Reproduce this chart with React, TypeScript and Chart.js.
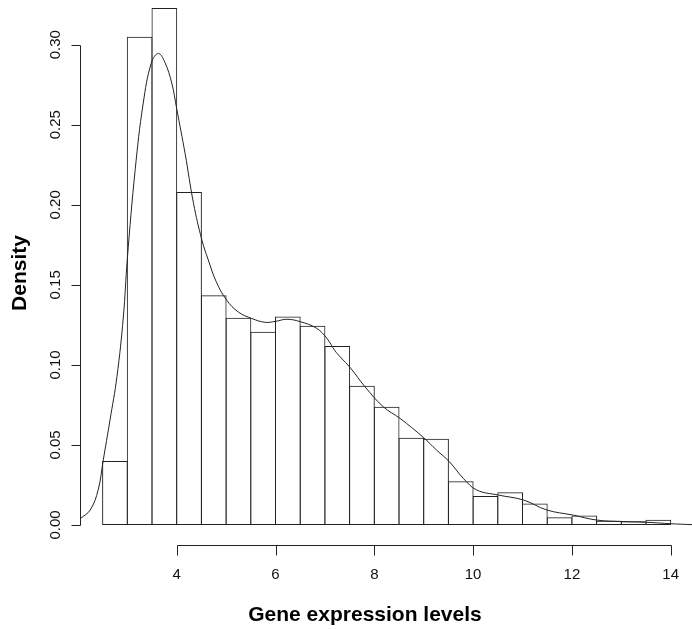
import { useEffect, useRef } from "react";
import { Chart, registerables } from "chart.js";

Chart.register(...registerables);

// Histogram bins (width 0.5, centres) and their densities
const binCenters = [
  2.75, 3.25, 3.75, 4.25, 4.75, 5.25, 5.75, 6.25, 6.75, 7.25, 7.75, 8.25,
  8.75, 9.25, 9.75, 10.25, 10.75, 11.25, 11.75, 12.25, 12.75, 13.25, 13.75,
];
const binDensity = [
  0.04, 0.305, 0.323, 0.208, 0.1435, 0.1295, 0.1207, 0.1303, 0.1245, 0.1118,
  0.087, 0.0739, 0.0545, 0.0539, 0.0273, 0.0181, 0.0204, 0.0135, 0.0048,
  0.006, 0.0027, 0.0023, 0.0033,
];

// Kernel density estimate overlaid on the histogram
const kdeX = [
  2.05, 2.25, 2.41, 2.51, 2.65, 2.79, 2.92, 3.0, 3.16, 3.32, 3.49, 3.63, 3.76,
  3.9, 4.0, 4.17, 4.34, 4.51, 4.64, 4.8, 5.01, 5.25, 5.52, 5.79, 6.0, 6.23,
  6.5, 6.83, 7.04, 7.2, 7.31, 7.52, 7.81, 8.18, 8.52, 8.99, 9.26, 9.52, 9.8,
  10.07, 10.51, 11.02, 11.49, 12.02, 12.5, 13.0, 13.51, 14.0, 14.45,
];
const kdeY = [
  0.004, 0.0094, 0.0219, 0.04, 0.0656, 0.0926, 0.13, 0.166, 0.222, 0.263,
  0.289, 0.2945, 0.289, 0.276, 0.26, 0.232, 0.201, 0.178, 0.1655, 0.152,
  0.1405, 0.133, 0.129, 0.1266, 0.1272, 0.1285, 0.127, 0.1229, 0.1166, 0.109,
  0.105, 0.098, 0.0864, 0.0739, 0.0666, 0.0548, 0.0468, 0.0395, 0.0292,
  0.0219, 0.0187, 0.0156, 0.0094, 0.0062, 0.0031, 0.0022, 0.0017, 0.0008,
  0.0002,
];

const xTicks = [4, 6, 8, 10, 12, 14];
const yTicks = [0, 0.05, 0.1, 0.15, 0.2, 0.25, 0.3];
const yTickLabels = ["0.00", "0.05", "0.10", "0.15", "0.20", "0.25", "0.30"];

const xTitle = "Gene expression levels";
const yTitle = "Density";

const FONT = "'Liberation Sans', Arial, Helvetica, sans-serif";
const INK = "#222";

// Base-graphics style axes: detached lines that only span the tick range
const rAxes = {
  id: "rAxes",
  afterDraw(chart: any) {
    const { ctx } = chart;
    const xs = chart.scales.x;
    const ys = chart.scales.y;
    const crisp = (v: number) => Math.round(v) + 0.5;

    ctx.save();
    ctx.strokeStyle = INK;
    ctx.lineWidth = 1;
    ctx.fillStyle = "#111";

    // y axis
    const yAxisX = crisp(chart.chartArea.left);
    ctx.beginPath();
    ctx.moveTo(yAxisX, crisp(ys.getPixelForValue(yTicks[0])));
    ctx.lineTo(yAxisX, crisp(ys.getPixelForValue(yTicks[yTicks.length - 1])));
    yTicks.forEach((v) => {
      const py = crisp(ys.getPixelForValue(v));
      ctx.moveTo(yAxisX, py);
      ctx.lineTo(yAxisX - 9, py);
    });
    ctx.stroke();

    ctx.font = `15px ${FONT}`;
    ctx.textAlign = "center";
    ctx.textBaseline = "alphabetic";
    yTicks.forEach((v, i) => {
      const py = ys.getPixelForValue(v);
      ctx.save();
      ctx.translate(59.5, py);
      ctx.rotate(-Math.PI / 2);
      ctx.fillText(yTickLabels[i], 0, 0);
      ctx.restore();
    });

    // x axis
    const xAxisY = crisp(chart.chartArea.bottom - 1);
    ctx.beginPath();
    ctx.moveTo(crisp(xs.getPixelForValue(xTicks[0])), xAxisY);
    ctx.lineTo(crisp(xs.getPixelForValue(xTicks[xTicks.length - 1])), xAxisY);
    xTicks.forEach((v) => {
      const px = crisp(xs.getPixelForValue(v));
      ctx.moveTo(px, xAxisY);
      ctx.lineTo(px, xAxisY + 10);
    });
    ctx.stroke();

    xTicks.forEach((v) => {
      ctx.fillText(String(v), xs.getPixelForValue(v), 578.5);
    });

    // axis titles
    ctx.font = `bold 21px ${FONT}`;
    ctx.fillStyle = "#000";
    ctx.fillText(xTitle, 365, 621);
    ctx.save();
    ctx.translate(26, 273);
    ctx.rotate(-Math.PI / 2);
    ctx.fillText(yTitle, 0, 0);
    ctx.restore();

    ctx.restore();
  },
};

export default function App() {
  const canvasRef = useRef<HTMLCanvasElement | null>(null);

  useEffect(() => {
    if (!canvasRef.current) return;
    const chart = new Chart(canvasRef.current, {
      type: "bar",
      data: {
        datasets: [
          {
            type: "line",
            data: kdeX.map((x, i) => ({ x, y: kdeY[i] })),
            borderColor: INK,
            borderWidth: 1,
            pointRadius: 0,
            fill: false,
            tension: 0.4,
            order: 1,
          } as any,
          {
            type: "bar",
            data: binCenters.map((x, i) => ({ x, y: binDensity[i] })),
            backgroundColor: "rgba(0,0,0,0)",
            borderColor: INK,
            borderWidth: 1,
            borderSkipped: false,
            inflateAmount: 0,
            barPercentage: 1.04,
            categoryPercentage: 1,
            order: 2,
          } as any,
        ],
      },
      options: {
        responsive: false,
        animation: false,
        events: [],
        layout: { padding: { left: 80, right: 0, top: 0, bottom: 83 } },
        plugins: {
          legend: { display: false },
          tooltip: { enabled: false },
        },
        scales: {
          x: {
            type: "linear",
            min: 2.0425,
            max: 14.431,
            offset: false,
            display: false,
          },
          y: {
            type: "linear",
            min: -0.013117,
            max: 0.32792,
            display: false,
          },
        },
      },
      plugins: [rAxes],
    });
    return () => chart.destroy();
  }, []);

  return (
    <div
      style={{
        position: "fixed",
        left: 0,
        top: 0,
        width: 692,
        height: 629,
        background: "#fff",
      }}
    >
      <canvas ref={canvasRef} width={692} height={629} />
    </div>
  );
}
